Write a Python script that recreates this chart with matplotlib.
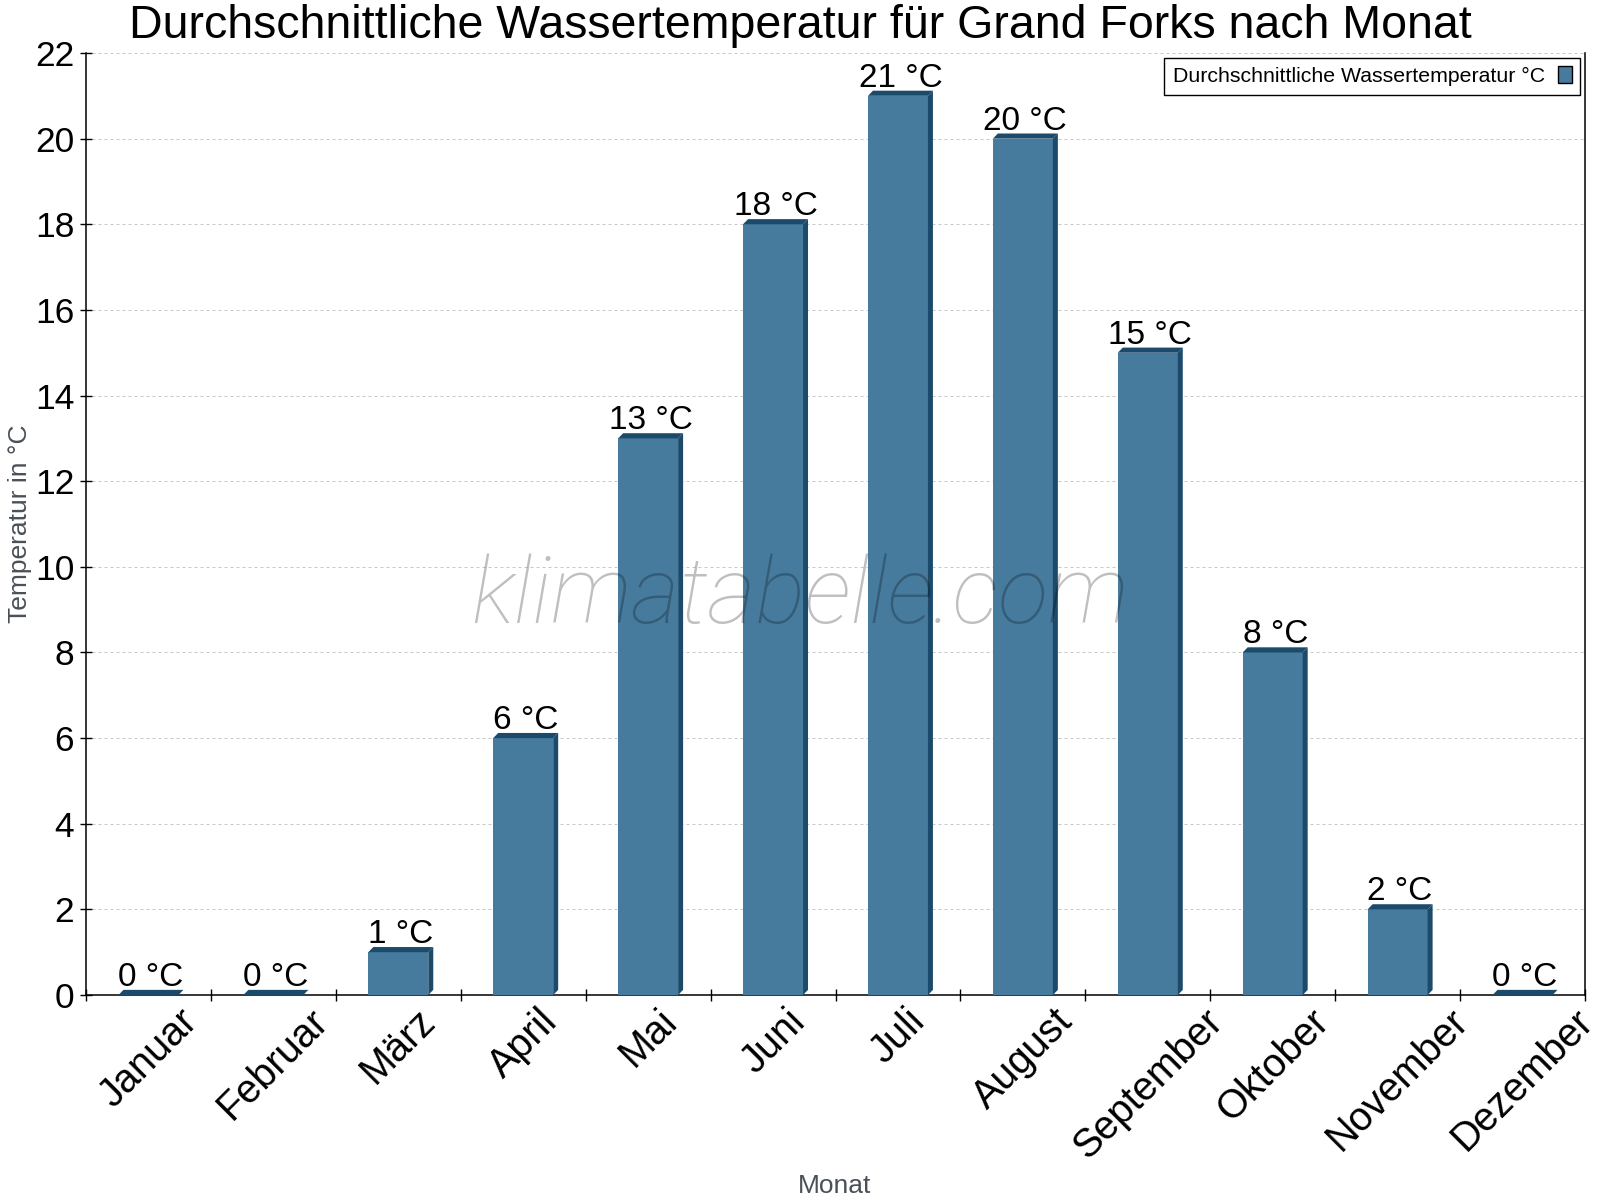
import numpy as np
import matplotlib
matplotlib.use('Agg')
from matplotlib import pyplot as plt
from matplotlib.patches import Polygon

plt.rcParams['font.family'] = ['Liberation Sans', 'DejaVu Sans']

# data
months = ['Januar', 'Februar', 'März', 'April', 'Mai', 'Juni', 'Juli',
          'August', 'September', 'Oktober', 'November', 'Dezember']
water_temp = [0, 0, 1, 6, 13, 18, 21, 20, 15, 8, 2, 0]
y_ticks = list(range(0, 23, 2))

front = '#467b9e'
dark = '#1b4a6b'

fig = plt.figure(figsize=(16, 12), dpi=100)
ax = fig.add_axes([86/1600, 1 - 995/1200, 1499/1600, 942/1200])

x = np.arange(len(months))
w = 0.48
dx = 0.04   # depth offset in category units
dy = 0.12   # depth offset in data units
ax.bar(x, water_temp, width=w, color=front, zorder=3, label='Durchschnittliche Wassertemperatur °C',
       edgecolor='none')
for xi, h in zip(x, water_temp):
    x0, x1 = xi - w / 2, xi + w / 2
    top = Polygon([(x0, h), (x0 + dx, h + dy), (x1 + dx, h + dy), (x1, h)],
                  closed=True, facecolor=dark, edgecolor='none', zorder=3)
    side = Polygon([(x1, 0), (x1, h), (x1 + dx, h + dy), (x1 + dx, dy)],
                   closed=True, facecolor=dark, edgecolor='none', zorder=3)
    ax.add_patch(top)
    ax.add_patch(side)
    ax.annotate(f'{h} °C', (xi + dx / 2, h), xytext=(0, 6.5), textcoords='offset points',
                ha='center', va='baseline', fontsize=24, zorder=4)

ax.set_xlim(-0.5, len(months) - 0.5)
ax.set_ylim(0, 22)
ax.set_yticks(y_ticks)
ax.set_xticks(x)
ax.set_xticklabels(months, rotation=45, ha='center', fontsize=28.5)
ax.set_xticks(np.arange(-0.5, len(months)), minor=True)
ax.tick_params(axis='x', which='major', length=0, pad=5)
ax.tick_params(axis='x', which='minor', length=9, direction='inout', width=1)
ax.tick_params(axis='y', labelsize=25.5, length=9, direction='inout', width=1, pad=4)

ax.grid(axis='y', color='#c8c8c8', linestyle=(0, (3, 3)), linewidth=0.72, zorder=0)
ax.set_axisbelow(True)
for s in ['left', 'bottom', 'right']:
    ax.spines[s].set_linewidth(1.1)
    ax.spines[s].set_color('black')
ax.spines['top'].set_visible(False)

leg = ax.legend(loc='upper right', bbox_to_anchor=(0.9967, 0.9947), borderaxespad=0,
                markerfirst=False, fontsize=15.3, fancybox=False, framealpha=1,
                edgecolor='black', handlelength=0.65, handleheight=0.85,
                borderpad=0.4, handletextpad=0.6)
leg.get_frame().set_linewidth(1.0)
for p in leg.get_patches():
    p.set_edgecolor('black')
    p.set_linewidth(1.0)

fig.text(0.5, 1 - 38/1200, 'Durchschnittliche Wassertemperatur für Grand Forks nach Monat',
         ha='center', va='baseline', fontsize=33.5)
fig.text(835/1600, 1 - 1193/1200, 'Monat', ha='center', va='baseline',
         fontsize=19, color='#4a5058')
fig.text(20/1600, 1 - 524/1200, 'Temperatur in °C', ha='center', va='center',
         rotation=90, fontsize=19, color='#4a5058')
fig.text(800/1600, 1 - 623/1200, 'klimatabelle.com', ha='center', va='baseline',
         fontsize=67, family='Roboto', weight='light', style='italic',
         color='black', alpha=0.25, zorder=10)

fig.savefig('out.png', dpi=100)
